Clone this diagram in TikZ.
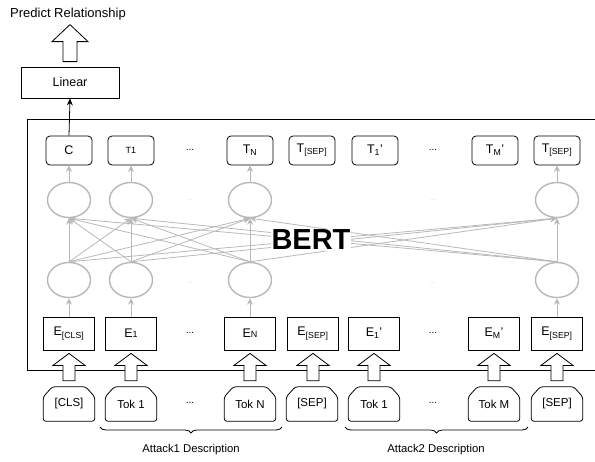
\documentclass[tikz,border=0pt]{standalone}
\usepackage{fontspec}
\setmainfont{Liberation Sans}
\usetikzlibrary{calc,arrows.meta,decorations.pathreplacing,shapes.geometric}
\definecolor{lg}{HTML}{B8B8B8}
\definecolor{dg}{HTML}{C8C8C8}
\newcommand\upblock[5]{\draw[blk] ($(#2|-#1)+(-#4,0)$) -- ($(#2)+(-#4,#5)$) -- ($(#2)+(-#3,#5)$) -- (#2) -- ($(#2)+(#3,#5)$) -- ($(#2)+(#4,#5)$) -- ($(#2|-#1)+(#4,0)$) -- cycle;}
\newcommand\tokframe[1]{\draw[tokline] (#1.south west) -- ($(#1.north west)+(0,10)$) -- ($(#1.north west)+(9,0)$) -- ($(#1.north east)+(-9,0)$) -- ($(#1.north east)+(0,10)$) -- (#1.south east) -- cycle;}
\begin{document}
\begin{tikzpicture}[x=1pt,y=-1pt,
  lab/.style={font=\fontsize{12.5}{14}\selectfont},
  tbox/.style={draw, rounded corners=4pt, minimum width=46pt, minimum height=29pt, inner sep=0pt, lab, line width=0.8pt},
  ebox/.style={draw, minimum width=51pt, minimum height=33pt, inner sep=0pt, lab, line width=0.8pt},
  tok/.style={minimum width=51pt, minimum height=34pt, inner sep=0pt, font=\fontsize{11.5}{13}\selectfont},
  tokline/.style={draw, line width=0.8pt, rounded corners=2.5pt},
  neuron/.style={draw=lg, ellipse, line width=1.4pt, minimum width=43pt, minimum height=35pt, inner sep=0pt},
  garrow/.style={draw=lg, line width=0.8pt, -{Stealth[length=6.5pt,width=6pt]}},
  blk/.style={draw, fill=white, line width=0.8pt},
  dots/.style={font=\fontsize{10}{12}\selectfont},
  gdots/.style={font=\fontsize{6}{7}\selectfont, text=dg},
  captext/.style={font=\fontsize{11.3}{13}\selectfont}
]
\useasboundingbox (0,0) rectangle (595,461);

% top part
\node[font=\fontsize{13}{15}\selectfont, inner sep=1pt] (pred) at (68,14) {Predict Relationship};
\node[draw, line width=0.8pt, minimum width=98pt, minimum height=31pt, inner sep=0pt, lab] (linear) at (70,82.5) {Linear};

% BERT frame
\node[draw, line width=0.8pt, minimum width=580pt, minimum height=251pt, anchor=north west, inner sep=0pt] (frame) at (27,119) {};

% top outputs
\node[tbox] (t1) at (69,150.5) {C};
\node[tbox] (t2) at (131,150.5) {\fontsize{9}{10}\selectfont T1};
\node[tbox] (t3) at (250,150.5) {T\textsubscript{N}};
\node[tbox] (t4) at (312,150.5) {T\textsubscript{[SEP]}};
\node[tbox] (t5) at (375,150.5) {T\textsubscript{1}'};
\node[tbox] (t6) at (495,150.5) {T\textsubscript{M}'};
\node[tbox] (t7) at (557,150.5) {T\textsubscript{[SEP]}};
\node[dots] (dt1) at (190,150) {...};
\node[dots] (dt2) at (433,150) {...};

% neurons
\foreach \n/\x in {1/69,2/131,3/250,7/557}{
  \node[neuron] (u\n) at (\x,200) {};
  \node[neuron] (b\n) at (\x,280) {};
}
\node[gdots] (gd1) at (190,200) {...};
\node[gdots] (gd2) at (433,200) {...};
\node[gdots] (gd3) at (190,283) {...};
\node[gdots] (gd4) at (433,283) {...};

% embeddings
\node[ebox] (e1) at (69,333.5) {E\textsubscript{[CLS]}};
\node[ebox] (e2) at (131,333.5) {E{\fontsize{9}{10}\selectfont 1}};
\node[ebox] (e3) at (250,333.5) {E{\fontsize{9}{10}\selectfont N}};
\node[ebox] (e4) at (313,333.5) {E\textsubscript{[SEP]}};
\node[ebox] (e5) at (374,333.5) {E\textsubscript{1}'};
\node[ebox] (e6) at (494,333.5) {E\textsubscript{M}'};
\node[ebox] (e7) at (557,333.5) {E\textsubscript{[SEP]}};
\node[dots] (de1) at (190,333) {...};
\node[dots] (de2) at (433,333) {...};

% connections
\foreach \i in {1,2,3,7}{
  \foreach \j in {1,2,3,7}{
    \draw[garrow] (b\i.north) -- (u\j.south);
  }
  \draw[garrow] (e\i.north) -- (b\i.south);
  \draw[garrow] (u\i.north) -- (t\i.south);
}
\node[font=\fontsize{29}{32}\selectfont\bfseries, fill=white, inner sep=1pt] (bert) at (311,240) {BERT};

\draw[line width=0.8pt, -{Stealth[length=7pt,width=6pt]}] (t1.north) -- (linear.south);

% tokens
\node[tok] (k1) at (69,404) {[CLS]};
\node[tok] (k2) at (131,404) {Tok 1};
\node[tok] (k3) at (250,404) {Tok N};
\node[tok] (k4) at (312,404) {[SEP]};
\node[tok] (k5) at (374,404) {Tok 1};
\node[tok] (k6) at (494,404) {Tok M};
\node[tok] (k7) at (557,404) {[SEP]};
\foreach \i in {1,...,7}{ \tokframe{k\i} }
\node[dots] (dk1) at (190,403) {...};
\node[dots] (dk2) at (433,403) {...};

% block arrows
\foreach \i in {1,...,7}{
  \coordinate (ab\i) at ($(k\i.north)+(0,-6)$);
  \coordinate (at\i) at ($(e\i.south)+(0,3)$);
  \upblock{ab\i}{at\i}{16}{6}{12}
}
\coordinate (pb) at ($(linear.north)+(0,-5)$);
\coordinate (pt) at ($(linear.north)+(0,-42)$);
\upblock{pb}{pt}{18}{7}{17}

% braces
\coordinate (br1a) at (100,427);
\coordinate (br1b) at (282,427);
\coordinate (br2a) at (345,427);
\coordinate (br2b) at (528,427);
\draw[line width=0.8pt, decorate, decoration={brace, mirror, amplitude=6pt}] (br1a) -- (br1b);
\draw[line width=0.8pt, decorate, decoration={brace, mirror, amplitude=6pt}] (br2a) -- (br2b);
\node[captext] (att1) at (191,450) {Attack1 Description};
\node[captext] (att2) at (436,450) {Attack2 Description};
\end{tikzpicture}
\end{document}
